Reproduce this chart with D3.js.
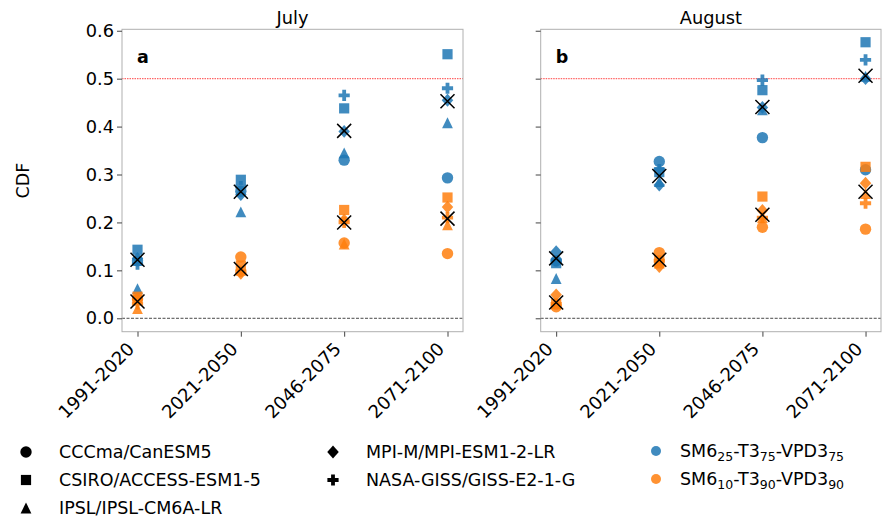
<!DOCTYPE html>
<html>
<head>
<meta charset="utf-8">
<script src="https://cdn.jsdelivr.net/npm/d3@7"></script>
<style>
  body { margin: 0; background: #fff; }
  text { font-family: "DejaVu Sans", sans-serif; fill: #000; }
</style>
</head>
<body>
<svg id="chart" width="886" height="518"></svg>
<script>
// periods on the x axis
var periods = ['1991-2020', '2021-2050', '2046-2075', '2071-2100'];
var models = ['CCCma/CanESM5', 'CSIRO/ACCESS-ESM1-5', 'IPSL/IPSL-CM6A-LR', 'MPI-M/MPI-ESM1-2-LR', 'NASA-GISS/GISS-E2-1-G'];
var modelShapes = ['circle', 'square', 'triangle', 'diamond', 'plus'];
var yTicks = [0, 0.1, 0.2, 0.3, 0.4, 0.5, 0.6];

// rows = models (same order as above), columns = periods
var julyT75 = [
    [0.120, 0.265, 0.330, 0.293],
    [0.143, 0.289, 0.438, 0.551],
    [0.062, 0.222, 0.345, 0.408],
    [0.125, 0.258, 0.390, 0.455],
    [0.113, 0.275, 0.465, 0.480]
];
var julyT90 = [
    [0.040, 0.128, 0.157, 0.135],
    [0.045, 0.110, 0.226, 0.252],
    [0.020, 0.100, 0.155, 0.195],
    [0.040, 0.094, 0.205, 0.232],
    [0.030, 0.098, 0.200, 0.210]
];
var augT75 = [
    [0.120, 0.327, 0.377, 0.310],
    [0.115, 0.305, 0.476, 0.576],
    [0.083, 0.285, 0.435, 0.505],
    [0.139, 0.278, 0.440, 0.500],
    [0.120, 0.310, 0.497, 0.539]
];
var augT90 = [
    [0.024, 0.137, 0.190, 0.186],
    [0.030, 0.120, 0.254, 0.316],
    [0.030, 0.115, 0.210, 0.260],
    [0.049, 0.108, 0.225, 0.282],
    [0.030, 0.120, 0.210, 0.240]
];
// multi-model mean (black x)
var julyMean75 = [0.122, 0.264, 0.391, 0.453];
var julyMean90 = [0.035, 0.103, 0.200, 0.208];
var augMean75 = [0.125, 0.297, 0.441, 0.506];
var augMean90 = [0.033, 0.122, 0.216, 0.264];

var blue = '#1f77b4', orange = '#ff7f0e';
var svg = d3.select('#chart');

function shapePath(type, k) {
    k = k || 1;
    var p = d3.path();
    if (type === 'circle') {
        var r = 5.7 * k;
        p.moveTo(r, 0); p.arc(0, 0, r, 0, 2 * Math.PI);
    } else if (type === 'square') {
        var h = 5.1 * k;
        p.rect(-h, -h, 2 * h, 2 * h);
    } else if (type === 'triangle') {
        var t = 5.4 * k;
        p.moveTo(0, -t); p.lineTo(t, t); p.lineTo(-t, t); p.closePath();
    } else if (type === 'diamond') {
        var d = 6.4 * k;
        p.moveTo(0, -d); p.lineTo(d * 0.9, 0); p.lineTo(0, d); p.lineTo(-d * 0.9, 0); p.closePath();
    } else if (type === 'plus') {
        var a = 5.6 * k, w = 1.9 * k;
        p.moveTo(-w, -a); p.lineTo(w, -a); p.lineTo(w, -w); p.lineTo(a, -w); p.lineTo(a, w);
        p.lineTo(w, w); p.lineTo(w, a); p.lineTo(-w, a); p.lineTo(-w, w); p.lineTo(-a, w);
        p.lineTo(-a, -w); p.lineTo(-w, -w); p.closePath();
    }
    return p.toString();
}

var plotTop = 29.3, plotBottom = 331.7;
var y = d3.scaleLinear().domain([-0.028, 0.603]).range([plotBottom, plotTop]);

function drawPanel(left, right, title, letter, set75, set90, mean75, mean90, showLabels) {
    // categories sit at 0..3, axis runs from -0.15 to 3.15
    var x = d3.scaleLinear().domain([-0.15, 3.15]).range([left, right]);
    var g = svg.append('g');

    // reference lines
    g.append('line').attr('x1', left).attr('x2', right)
        .attr('y1', y(0.5)).attr('y2', y(0.5))
        .attr('stroke', 'red').attr('stroke-opacity', 0.6).attr('stroke-width', 1.1)
        .attr('stroke-dasharray', '1.5,1');
    g.append('line').attr('x1', left).attr('x2', right)
        .attr('y1', y(0)).attr('y2', y(0))
        .attr('stroke', '#333').attr('stroke-width', 0.9)
        .attr('stroke-dasharray', '3,1.5');

    // frame
    g.append('rect').attr('x', left).attr('y', plotTop)
        .attr('width', right - left).attr('height', plotBottom - plotTop)
        .attr('fill', 'none').attr('stroke', '#b0b0b0').attr('stroke-width', 1);

    // y axis
    var yAxis = d3.axisLeft(y).tickValues(yTicks).tickSize(5).tickPadding(3)
        .tickFormat(showLabels ? d3.format('.1f') : '');
    var ya = g.append('g').attr('transform', 'translate(' + left + ',0)').call(yAxis);
    ya.select('.domain').remove();
    ya.selectAll('.tick line').attr('stroke', '#444');
    ya.selectAll('.tick text').style('font-size', '17.8px').style('font-family', '"DejaVu Sans"');

    // x axis
    var xAxis = d3.axisBottom(x).tickValues([0, 1, 2, 3]).tickSize(5)
        .tickFormat(function (i) { return periods[i]; });
    var xa = g.append('g').attr('transform', 'translate(0,' + plotBottom + ')').call(xAxis);
    xa.select('.domain').remove();
    xa.selectAll('.tick line').attr('stroke', '#444');
    xa.selectAll('.tick text')
        .style('font-size', '18px').style('font-family', '"DejaVu Sans"')
        .attr('text-anchor', 'end').attr('dy', '0.35em').attr('y', 0)
        .attr('transform', 'translate(-7,14) rotate(-45)');

    // title and panel letter
    g.append('text').attr('x', (left + right) / 2).attr('y', 24)
        .attr('text-anchor', 'middle').style('font-size', '17.8px').text(title);
    g.append('text').attr('x', left + 15).attr('y', 63)
        .style('font-size', '17.5px').style('font-weight', 'bold').text(letter);

    // model markers, blue set first then orange
    [[set75, blue], [set90, orange]].forEach(function (s) {
        s[0].forEach(function (row, m) {
            g.selectAll(null).data(row).enter().append('path')
                .attr('d', shapePath(modelShapes[m]))
                .attr('transform', function (v, i) { return 'translate(' + x(i) + ',' + y(v) + ')'; })
                .attr('fill', s[1]).attr('fill-opacity', 0.85);
        });
    });

    // ensemble mean crosses
    [mean75, mean90].forEach(function (mean) {
        g.selectAll(null).data(mean).enter().append('path')
            .attr('d', 'M-7,-7L7,7M-7,7L7,-7')
            .attr('transform', function (v, i) { return 'translate(' + x(i) + ',' + y(v) + ')'; })
            .attr('stroke', '#000').attr('stroke-width', 1.5).attr('fill', 'none');
    });
}

drawPanel(122, 463, 'July', 'a', julyT75, julyT90, julyMean75, julyMean90, true);
drawPanel(540.7, 881, 'August', 'b', augT75, augT90, augMean75, augMean90, false);

// y label
svg.append('text').attr('transform', 'translate(29,' + ((plotTop + plotBottom) / 2) + ') rotate(-90)')
    .attr('text-anchor', 'middle').style('font-size', '17.5px').text('CDF');

// legend: models in two columns, black markers
var legendPos = [[26, 452], [26, 480], [26, 508], [333, 452], [333, 480]];
models.forEach(function (name, m) {
    var lg = svg.append('g').attr('transform', 'translate(' + legendPos[m][0] + ',' + legendPos[m][1] + ')');
    lg.append('path').attr('d', shapePath(modelShapes[m])).attr('fill', '#000');
    lg.append('text').attr('x', 33).attr('dy', '0.35em').style('font-size', '17.5px').text(name);
});

// legend: threshold colours
var thresholdNames = [['SM6', '25', '-T3', '75', '-VPD3', '75'], ['SM6', '10', '-T3', '90', '-VPD3', '90']];
var thresholdColors = [blue, orange];
thresholdNames.forEach(function (parts, k) {
    var lg = svg.append('g').attr('transform', 'translate(656,' + (451 + k * 28) + ')');
    lg.append('circle').attr('r', 5).attr('fill', thresholdColors[k]).attr('fill-opacity', 0.85);
    var t = lg.append('text').attr('x', 24).attr('dy', '0.35em').style('font-size', '17.5px');
    parts.forEach(function (p, j) {
        var ts = t.append('tspan').text(p);
        if (j % 2 === 1) ts.attr('dy', 4).style('font-size', '12.5px');
        else if (j > 0) ts.attr('dy', -4);
    });
});
</script>
</body>
</html>
